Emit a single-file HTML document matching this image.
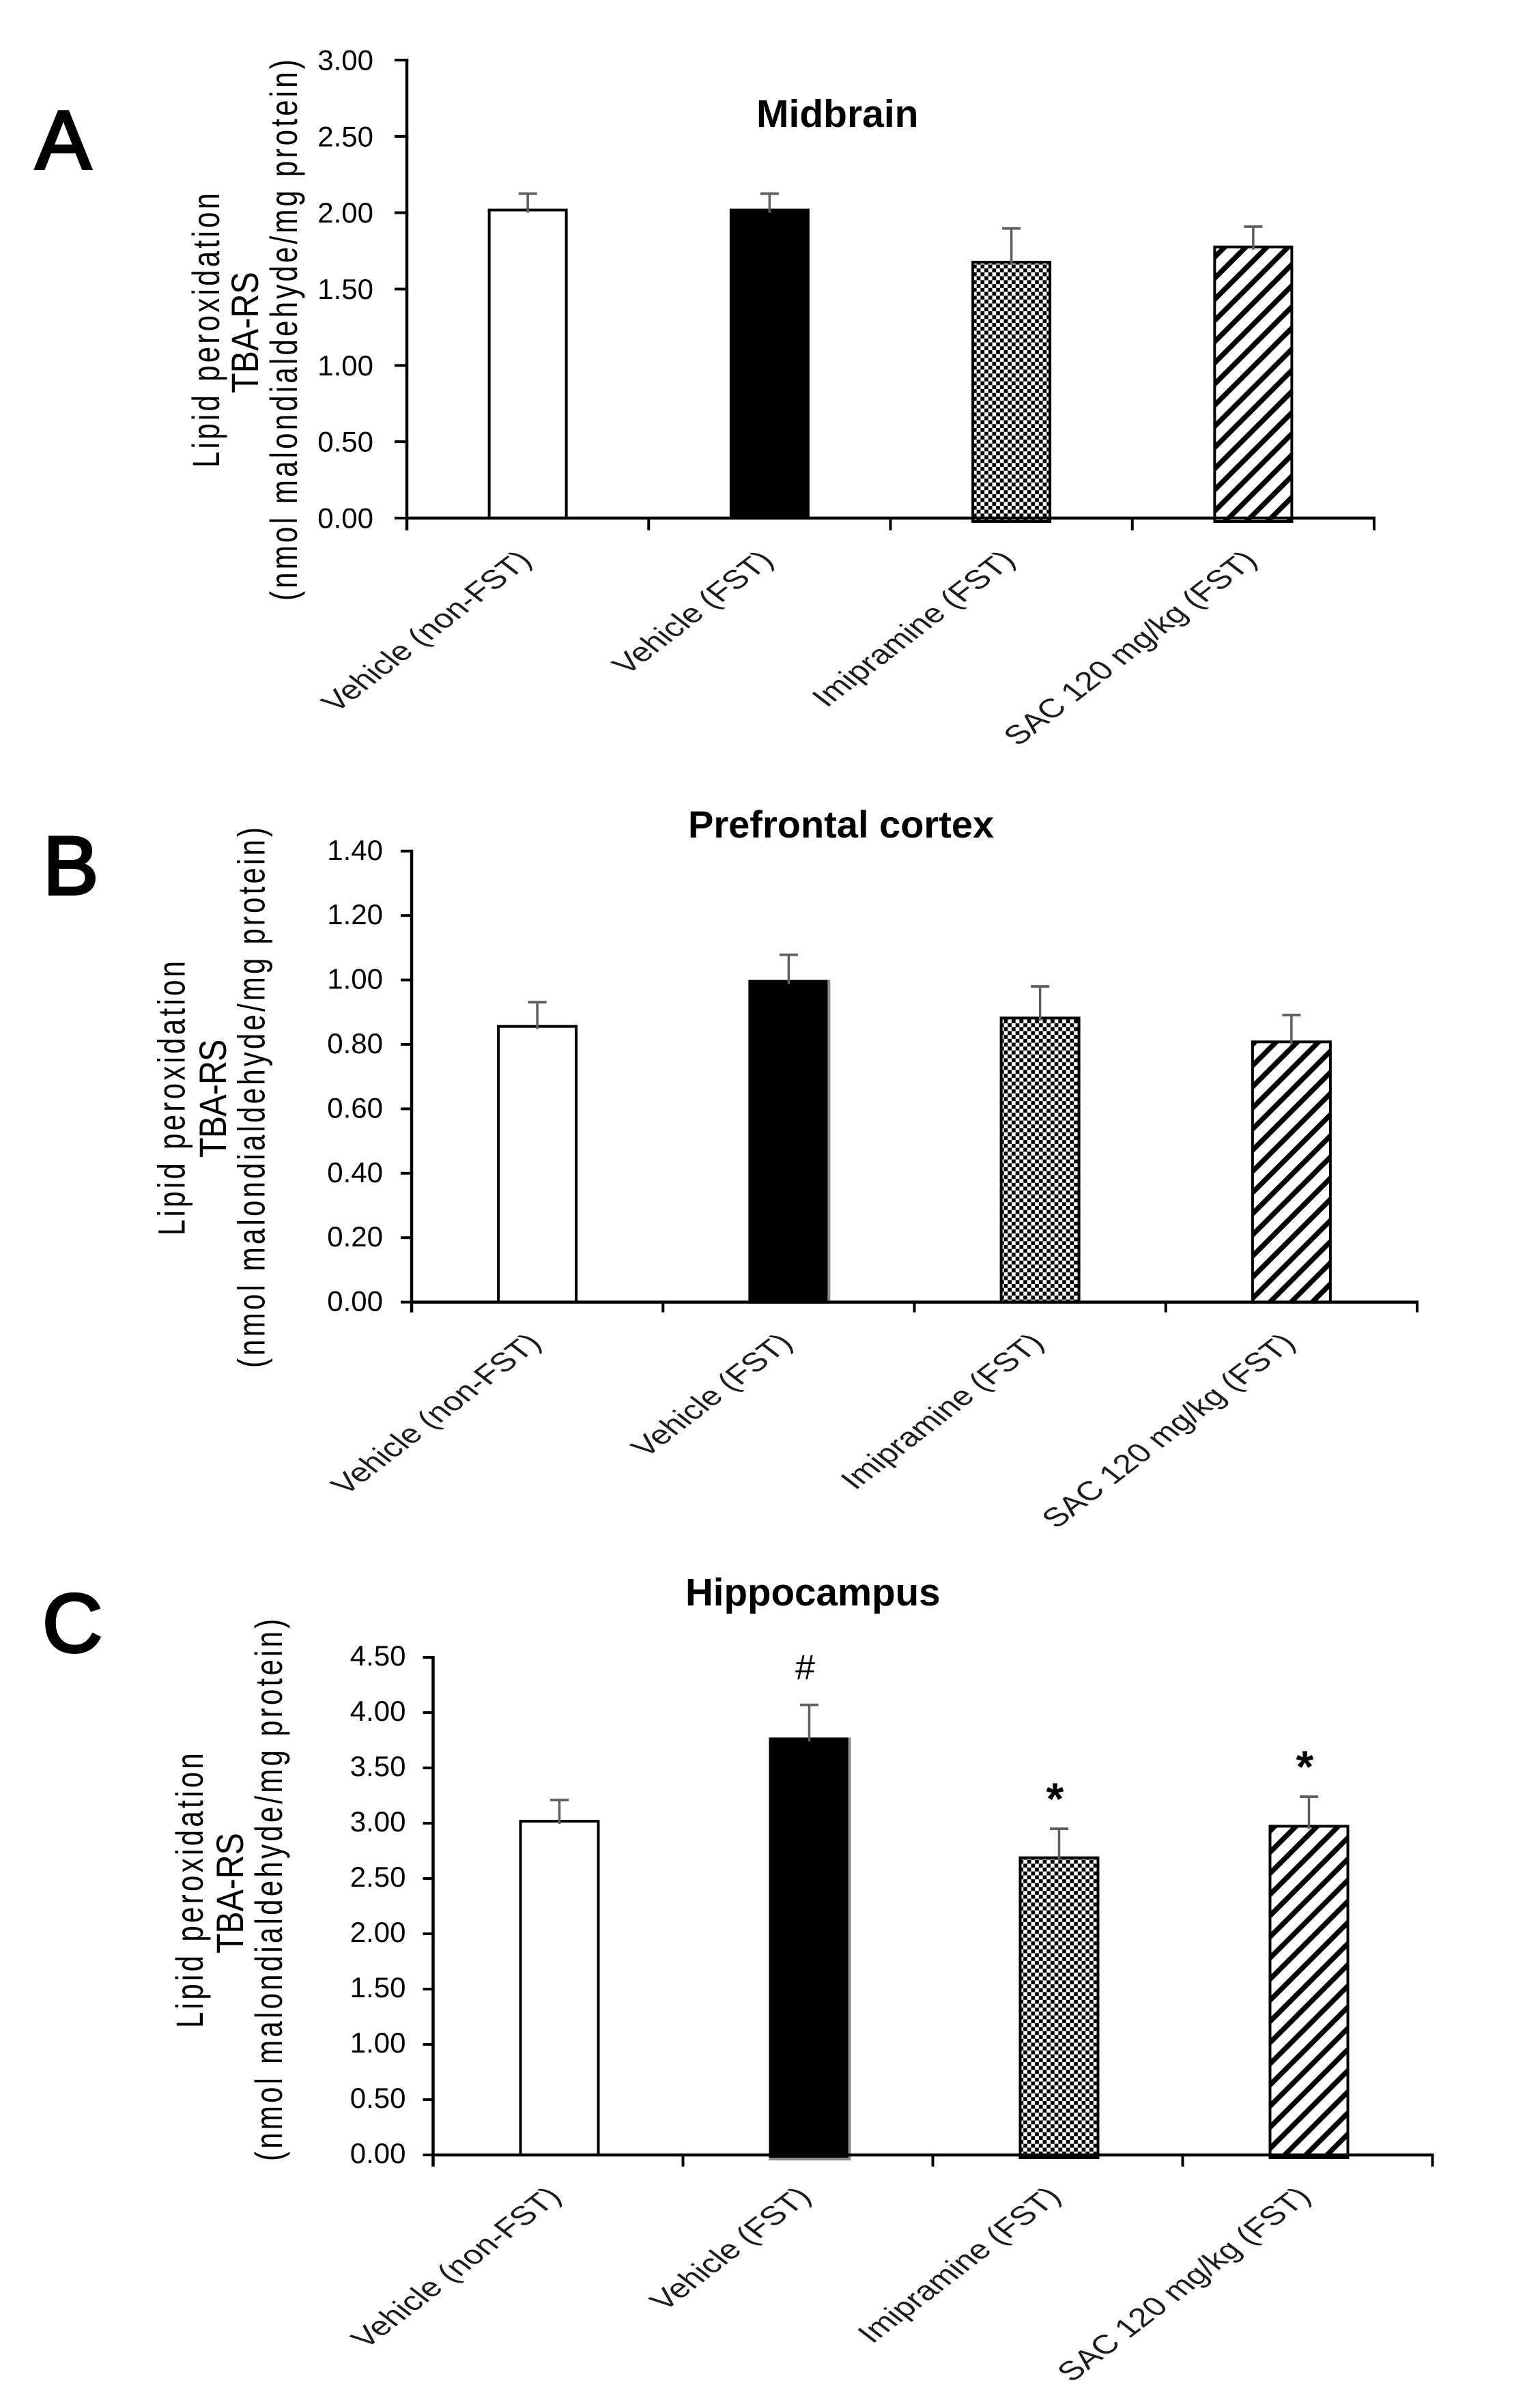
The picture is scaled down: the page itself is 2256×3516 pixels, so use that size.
<!DOCTYPE html>
<html lang="en">
<head>
<meta charset="utf-8">
<title>Lipid peroxidation in midbrain, prefrontal cortex and hippocampus</title>
<style>
html,body{margin:0;padding:0;background:#fff;}
svg{display:block;font-family:"Liberation Sans",Arial,sans-serif;}
</style>
</head>
<body>
<svg id="figure" xmlns="http://www.w3.org/2000/svg" width="2256" height="3516" viewBox="0 0 2256 3516">
  <defs>
    <pattern id="check" patternUnits="userSpaceOnUse" width="11.4" height="11.4">
      <rect width="11.4" height="11.4" fill="#fff"/>
      <rect width="5.7" height="5.7" fill="#000"/>
      <rect x="5.7" y="5.7" width="5.7" height="5.7" fill="#000"/>
    </pattern>
    <pattern id="hatch" patternUnits="userSpaceOnUse" width="31" height="31" patternTransform="translate(17,0)">
      <rect width="31" height="31" fill="#fff"/>
      <path d="M-8,8 L8,-8 M-8,39 L39,-8 M23,39 L39,23" stroke="#000" stroke-width="7.5" fill="none"/>
    </pattern>
  </defs>
  <rect width="2256" height="3516" fill="#fff"/>

  <g id="panel-a">
    <text x="52" y="247" font-size="122" stroke="#000" stroke-width="4">A</text>
    <text x="1108" y="186" font-size="57" font-weight="bold">Midbrain</text>
    <text transform="translate(321,685) rotate(-90) scale(.75,1)" font-size="56" textLength="536" lengthAdjust="spacing">Lipid peroxidation</text>
    <text transform="translate(378,576) rotate(-90) scale(.867,1)" font-size="56" textLength="205" lengthAdjust="spacing">TBA-RS</text>
    <text transform="translate(435,880) rotate(-90) scale(.75,1)" font-size="56" textLength="1057" lengthAdjust="spacing">(nmol malondialdehyde/mg protein)</text>
  </g>

  <g id="panel-b">
    <text x="63" y="1310" font-size="122" stroke="#000" stroke-width="4">B</text>
    <text x="1008" y="1227" font-size="56" font-weight="bold">Prefrontal cortex</text>
    <text transform="translate(270.5,1810) rotate(-90) scale(.75,1)" font-size="56" textLength="536" lengthAdjust="spacing">Lipid peroxidation</text>
    <text transform="translate(331,1696) rotate(-90) scale(.867,1)" font-size="56" textLength="200" lengthAdjust="spacing">TBA-RS</text>
    <text transform="translate(387.5,2004) rotate(-90) scale(.75,1)" font-size="56" textLength="1056" lengthAdjust="spacing">(nmol malondialdehyde/mg protein)</text>
  </g>

  <g id="panel-c">
    <text x="62" y="2420" font-size="122" stroke="#000" stroke-width="4">C</text>
    <text x="1004" y="2352" font-size="56.5" font-weight="bold">Hippocampus</text>
    <text transform="translate(297,2971) rotate(-90) scale(.75,1)" font-size="56" textLength="537" lengthAdjust="spacing">Lipid peroxidation</text>
    <text transform="translate(356,2862) rotate(-90) scale(.867,1)" font-size="56" textLength="204" lengthAdjust="spacing">TBA-RS</text>
    <text transform="translate(413,3166) rotate(-90) scale(.75,1)" font-size="56" textLength="1059" lengthAdjust="spacing">(nmol malondialdehyde/mg protein)</text>
  </g>
</svg>

<script>
const categories = ['Vehicle (non-FST)', 'Vehicle (FST)', 'Imipramine (FST)', 'SAC 120 mg/kg (FST)'];
const barFills = ['#fff', '#000', 'url(#check)', 'url(#hatch)'];

const midbrainTicks = ['0.00', '0.50', '1.00', '1.50', '2.00', '2.50', '3.00'];
const midbrainMeans = [2.027, 2.027, 1.685, 1.785];
const midbrainErrors = [0.098, 0.098, 0.212, 0.124];

const prefrontalTicks = ['0.00', '0.20', '0.40', '0.60', '0.80', '1.00', '1.20', '1.40'];
const prefrontalMeans = [0.86, 1.0, 0.886, 0.812];
const prefrontalErrors = [0.071, 0.078, 0.094, 0.079];

const hippocampusTicks = ['0.00', '0.50', '1.00', '1.50', '2.00', '2.50', '3.00', '3.50', '4.00', '4.50'];
const hippocampusMeans = [3.03, 3.775, 2.70, 2.985];
const hippocampusErrors = [0.18, 0.295, 0.25, 0.255];
const hippocampusMarks = ['', '#', '*', '*'];

const SVGNS = 'http://www.w3.org/2000/svg';

function make(parent, tag, attrs, txt) {
  const node = document.createElementNS(SVGNS, tag);
  for (const k in attrs) node.setAttribute(k, attrs[k]);
  if (txt !== undefined) node.textContent = txt;
  parent.appendChild(node);
  return node;
}

function drawPanel(id, cfg, ticks, means, errors, marks) {
  const root = document.getElementById(id);
  const maxTick = parseFloat(ticks[ticks.length - 1]);
  const yScale = v => cfg.y0 - v * (cfg.y0 - cfg.yTop) / maxTick;
  const band = (cfg.x1 - cfg.x0) / categories.length;
  const xTick = i => cfg.x0 + i * band;
  const xCenter = i => xTick(i) + band / 2 + cfg.barShift;

  means.forEach((m, i) => {
    const left = xCenter(i) - cfg.barW / 2;
    const top = yScale(m);
    const bottom = cfg.y0 + (i >= cfg.underFrom ? cfg.under : 0);

    const bar = make(root, 'rect', {
      x: left + 2, y: top + 2, width: cfg.barW - 4, height: bottom - top - 2,
      fill: barFills[i], stroke: '#000', 'stroke-width': 4
    });
    
    

    if (i === 1 && cfg.grayEdge) {
      const edge = make(root, 'path', {
        d: 'M' + (left + cfg.barW) + ',' + top + ' V' + (bottom + 2) + (cfg.under ? ' H' + left : ''),
        stroke: '#8a8a8a', 'stroke-width': 4, fill: 'none'
      });
      
      
    }
  });

  const yAxis = make(root, 'line', {
    x1: cfg.x0, x2: cfg.x0, y1: yScale(maxTick) - 2, y2: cfg.y0 + cfg.tickDown,
    stroke: '#000', 'stroke-width': 4.5
  });
  
  

  const xAxis = make(root, 'line', {
    x1: cfg.x0, x2: cfg.x1 + 2, y1: cfg.y0, y2: cfg.y0,
    stroke: '#000', 'stroke-width': 4.5
  });
  
  

  ticks.forEach(t => {
    const v = parseFloat(t);
    const mark = make(root, 'line', {
      x1: cfg.x0 - cfg.tickLeft, x2: cfg.x0, y1: yScale(v), y2: yScale(v),
      stroke: '#000', 'stroke-width': 4
    });
    
    

    const label = make(root, 'text', {
      x: cfg.x0 - cfg.labelGap, y: yScale(v) + cfg.tickLabelDrop,
      'font-size': 42, 'text-anchor': 'end', fill: '#000'
    }, t);
    
    
  });

  for (let i = 0; i <= categories.length; i++) {
    const mark = make(root, 'line', {
      x1: xTick(i), x2: xTick(i), y1: cfg.y0, y2: cfg.y0 + cfg.tickDown,
      stroke: '#000', 'stroke-width': 4
    });
    
    
  }

  categories.forEach((c, i) => {
    const ex = xCenter(i) - cfg.barShift + cfg.labelShift;
    const ey = cfg.y0 + cfg.labelDrop;
    const label = make(root, 'text', {
      transform: 'translate(' + ex + ',' + ey + ') scale(1.3,1) rotate(-45)',
      'font-size': 39, 'text-anchor': 'end', fill: '#1c1c1c'
    }, c);
    
    
  });

  means.forEach((m, i) => {
    const cx = xCenter(i);
    const top = yScale(m + errors[i]);
    const stem = make(root, 'line', {
      x1: cx, x2: cx, y1: yScale(m) + 6, y2: top,
      stroke: '#5f5f5f', 'stroke-width': 3.5
    });
    
    

    const cap = make(root, 'line', {
      x1: cx - 13.5, x2: cx + 13.5, y1: top, y2: top,
      stroke: '#5f5f5f', 'stroke-width': 3.8
    });
    
    
  });

  if (marks) {
    marks.forEach((s, i) => {
      if (!s) return;
      const star = s === '*';
      const note = make(root, 'text', {
        x: xCenter(i) - 6,
        y: yScale(means[i] + errors[i]) - (star ? 21 : 37),
        'font-size': star ? 66 : 52,
        'font-weight': star ? 'bold' : 'normal',
        'text-anchor': 'middle', fill: '#000'
      }, s);
      
      
    });
  }
}

drawPanel('panel-a', {
  x0: 596, x1: 2013, y0: 759, yTop: 88, barW: 117, barShift: 0,
  tickLeft: 18, tickDown: 18, tickLabelDrop: 14.5, labelGap: 49, labelShift: 8, labelDrop: 64,
  under: 5, underFrom: 2, grayEdge: false
}, midbrainTicks, midbrainMeans, midbrainErrors);

drawPanel('panel-b', {
  x0: 603, x1: 2076, y0: 1907.6, yTop: 1246.8, barW: 118, barShift: 0,
  tickLeft: 16, tickDown: 15, tickLabelDrop: 13, labelGap: 42, labelShift: 8, labelDrop: 62,
  under: 0, underFrom: 9, grayEdge: true
}, prefrontalTicks, prefrontalMeans, prefrontalErrors);

drawPanel('panel-c', {
  x0: 634.5, x1: 2098.5, y0: 3157, yTop: 2428, barW: 118, barShift: 2,
  tickLeft: 15, tickDown: 17, tickLabelDrop: 12, labelGap: 40, labelShift: 7, labelDrop: 63,
  under: 4, underFrom: 1, grayEdge: true
}, hippocampusTicks, hippocampusMeans, hippocampusErrors, hippocampusMarks);
</script>
</body>
</html>
